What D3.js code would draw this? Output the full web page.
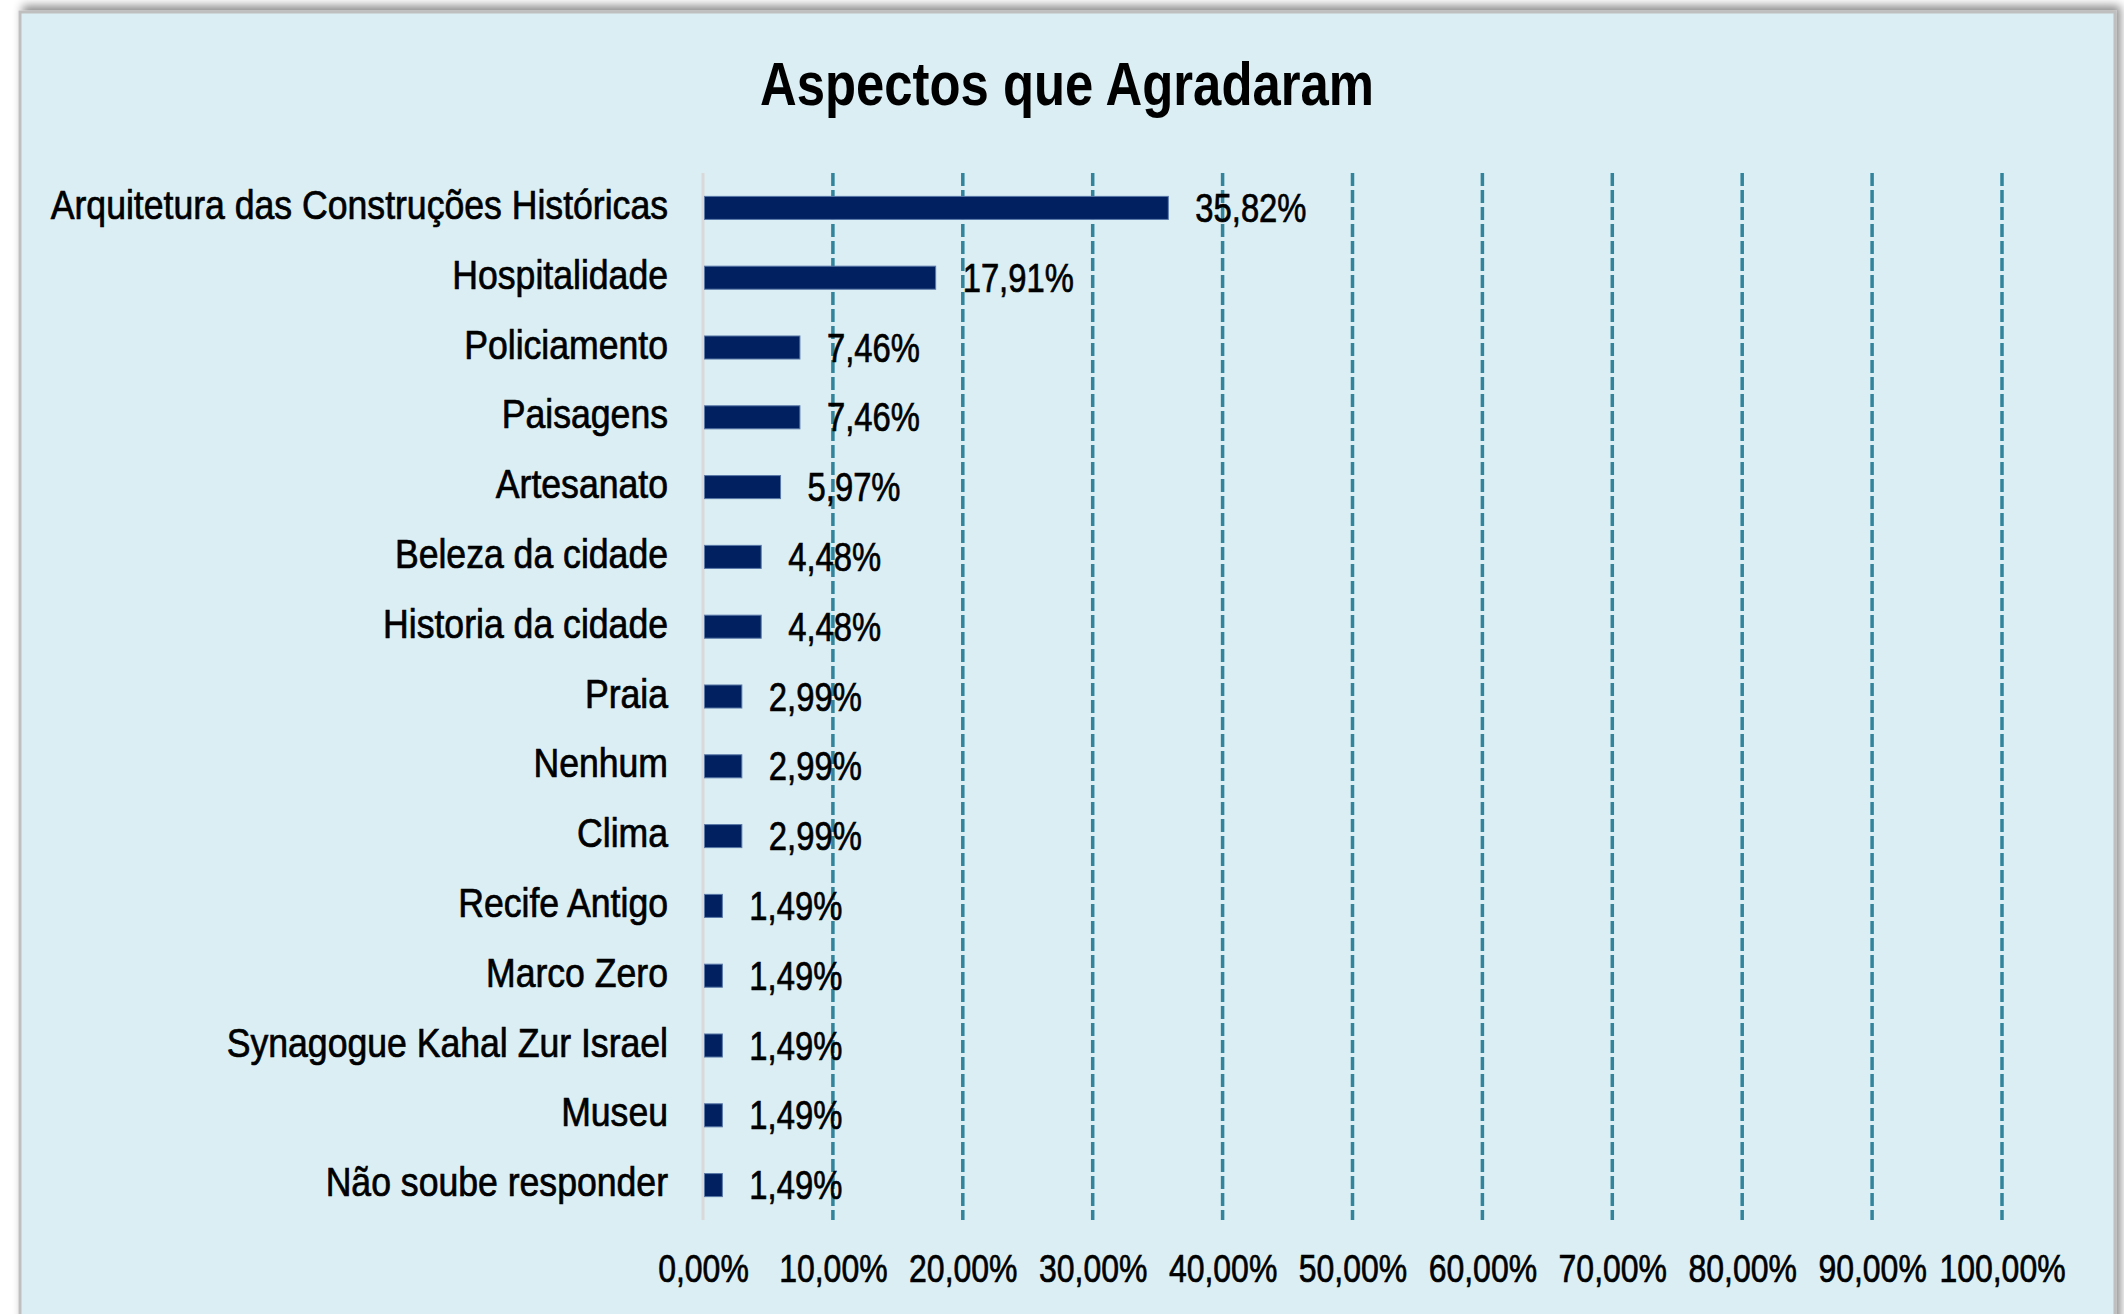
<!DOCTYPE html>
<html>
<head>
<meta charset="utf-8">
<script src="https://cdn.jsdelivr.net/npm/d3@7"></script>
<style>
  html, body { margin: 0; padding: 0; background: #ffffff; }
  svg text { font-family: "Liberation Sans", Arial, sans-serif; fill: #000; }
  svg text.heavy { stroke: #000; stroke-width: 0.7px; }
</style>
</head>
<body>
<div id="chart"></div>
<script>
'use strict'

// data
const categories = [
    "Arquitetura das Construções Históricas",
    "Hospitalidade",
    "Policiamento",
    "Paisagens",
    "Artesanato",
    "Beleza da cidade",
    "Historia da cidade",
    "Praia",
    "Nenhum",
    "Clima",
    "Recife Antigo",
    "Marco Zero",
    "Synagogue Kahal Zur Israel",
    "Museu",
    "Não soube responder"
]
const values = [35.82, 17.91, 7.46, 7.46, 5.97, 4.48, 4.48, 2.99, 2.99, 2.99, 1.49, 1.49, 1.49, 1.49, 1.49]
const tickValues = [0, 10, 20, 30, 40, 50, 60, 70, 80, 90, 100]
const title = "Aspectos que Agradaram"

////////////////////////////////////
//////////// svg setup /////////////
////////////////////////////////////

const svgWidth = 2124
const svgHeight = 1314
const squeeze = 0.82     // the source text is horizontally narrowed
const catSqueeze = 0.89  // category labels are a little wider

const plot = { left: 703, right: 2002, top: 173, bottom: 1220 }

const svg = d3.select('#chart')
    .append('svg')
    .attr('width', svgWidth)
    .attr('height', svgHeight)
    .style('display', 'block')

const defs = svg.append('defs')
const shadow = defs.append('filter')
    .attr('id', 'shadow')
    .attr('x', '-5%').attr('y', '-5%')
    .attr('width', '110%').attr('height', '110%')
shadow.append('feDropShadow')
    .attr('dx', 4)
    .attr('dy', -5)
    .attr('stdDeviation', 5)
    .attr('flood-color', '#000')
    .attr('flood-opacity', 0.45)

// chart frame
svg.append('rect')
    .attr('x', 20)
    .attr('y', 12)
    .attr('width', 2095)
    .attr('height', 1340)
    .attr('fill', '#DAEEF3')
    .attr('stroke', '#BFBFBF')
    .attr('stroke-width', 3)
    .attr('filter', 'url(#shadow)')

////////////////////////////////////
//////////// Scales ////////////////
////////////////////////////////////

const x = d3.scaleLinear()
    .domain([0, 100])
    .range([plot.left, plot.right])

const y = d3.scaleBand()
    .domain(categories)
    .range([plot.top, plot.bottom])
    .paddingInner(0.67)
    .paddingOuter(0.335)

const fmt = v => d3.format('.2f')(v).replace('.', ',') + '%'

////////////////////////////////////
//////////// add to DOM ////////////
////////////////////////////////////

// title
svg.append('text')
    .attr('transform', `translate(1067,105) scale(${squeeze},1)`)
    .attr('text-anchor', 'middle')
    .style('font-size', '62px')
    .style('font-weight', 'bold')
    .text(title)

// dashed grid lines
svg.append('g')
    .selectAll('line')
    .data(tickValues.filter(d => d > 0))
    .join('line')
    .attr('x1', d => x(d))
    .attr('x2', d => x(d))
    .attr('y1', plot.top)
    .attr('y2', plot.bottom)
    .attr('stroke', '#31849B')
    .attr('stroke-width', 3.5)
    .attr('stroke-dasharray', '13,4')

// vertical axis line
svg.append('line')
    .attr('x1', x(0))
    .attr('x2', x(0))
    .attr('y1', plot.top)
    .attr('y2', plot.bottom)
    .attr('stroke', '#D9D9D9')
    .attr('stroke-width', 3)

// bottom tick labels
const xAxis = svg.append('g')
    .attr('transform', `translate(0,${plot.bottom})`)
    .call(d3.axisBottom(x).tickValues(tickValues).tickSize(0).tickFormat(fmt))
xAxis.select('.domain').remove()
xAxis.selectAll('text')
    .attr('class', 'heavy')
    .attr('y', 62)
    .attr('dy', null)
    .attr('transform', `scale(${squeeze},1)`)
    .style('font-size', '39px')
    .style('font-family', '"Liberation Sans", Arial, sans-serif')
    .attr('fill', '#000')

// category labels
svg.append('g')
    .selectAll('text')
    .data(categories)
    .join('text')
    .attr('class', 'heavy')
    .attr('transform', d => `translate(668,${y(d) + y.bandwidth() / 2 + 11}) scale(${catSqueeze},1)`)
    .attr('text-anchor', 'end')
    .style('font-size', '40px')
    .text(d => d)

// bars
svg.append('g')
    .selectAll('rect')
    .data(values)
    .join('rect')
    .attr('x', x(0) + 1.5)
    .attr('y', (d, i) => y(categories[i]))
    .attr('width', d => x(d) - x(0) - 1.5)
    .attr('height', y.bandwidth())
    .attr('fill', '#002060')
    .attr('stroke', '#5A78A8')
    .attr('stroke-width', 1)

// value labels
svg.append('g')
    .selectAll('text')
    .data(values)
    .join('text')
    .attr('class', 'heavy')
    .attr('transform', (d, i) => `translate(${x(d) + 27},${y(categories[i]) + y.bandwidth() / 2 + 14}) scale(${squeeze},1)`)
    .style('font-size', '40px')
    .text(d => fmt(d))
</script>
</body>
</html>
